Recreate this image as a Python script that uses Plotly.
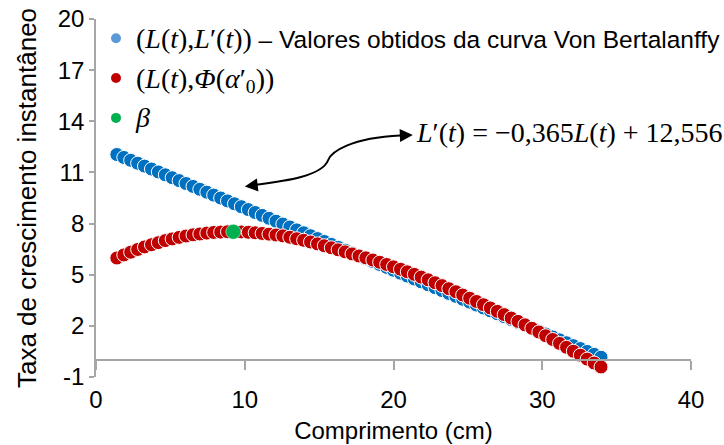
import plotly.graph_objects as go

# Comprimento L(t) (cm)
comprimento = [
    1.40, 1.87, 2.33, 2.80, 3.26, 3.73, 4.19, 4.66, 5.12, 5.59,
    6.05, 6.52, 6.98, 7.45, 7.91, 8.38, 8.84, 9.31, 9.77, 10.24,
    10.70, 11.17, 11.63, 12.10, 12.56, 13.03, 13.49, 13.96, 14.42, 14.89,
    15.35, 15.82, 16.28, 16.75, 17.21, 17.68, 18.14, 18.61, 19.07, 19.54,
    20.00, 20.47, 20.93, 21.40, 21.86, 22.33, 22.79, 23.26, 23.72, 24.19,
    24.65, 25.12, 25.58, 26.05, 26.51, 26.98, 27.44, 27.91, 28.37, 28.84,
    29.30, 29.77, 30.23, 30.70, 31.16, 31.63, 32.09, 32.56, 33.02, 33.49,
    33.95,
]

# L'(t) obtido da curva de Von Bertalanffy
taxa_vb = [
    12.05, 11.88, 11.71, 11.54, 11.37, 11.20, 11.03, 10.86, 10.69, 10.52,
    10.35, 10.18, 10.01, 9.84, 9.67, 9.50, 9.33, 9.16, 8.99, 8.82,
    8.65, 8.48, 8.31, 8.14, 7.97, 7.80, 7.63, 7.46, 7.29, 7.12,
    6.95, 6.78, 6.61, 6.44, 6.27, 6.10, 5.94, 5.77, 5.60, 5.43,
    5.26, 5.09, 4.92, 4.75, 4.58, 4.41, 4.24, 4.07, 3.90, 3.73,
    3.56, 3.39, 3.22, 3.05, 2.88, 2.71, 2.54, 2.37, 2.20, 2.03,
    1.86, 1.69, 1.52, 1.35, 1.18, 1.01, 0.84, 0.67, 0.50, 0.33,
    0.16,
]

# Phi(alpha'_0)
taxa_phi = [
    5.98, 6.16, 6.32, 6.48, 6.63, 6.76, 6.88, 7.00, 7.10, 7.19,
    7.27, 7.34, 7.39, 7.44, 7.48, 7.50, 7.52, 7.52, 7.51, 7.49,
    7.46, 7.42, 7.38, 7.33, 7.28, 7.20, 7.11, 7.02, 6.92, 6.81,
    6.70, 6.58, 6.46, 6.34, 6.22, 6.10, 5.99, 5.86, 5.73, 5.60,
    5.46, 5.32, 5.17, 5.02, 4.86, 4.70, 4.53, 4.36, 4.18, 4.00,
    3.81, 3.62, 3.43, 3.24, 3.05, 2.85, 2.66, 2.46, 2.26, 2.06,
    1.86, 1.64, 1.42, 1.20, 0.97, 0.74, 0.51, 0.28, 0.05, -0.18,
    -0.41,
]

# ponto beta
beta_x = [9.23]
beta_y = [7.52]

y_ticks = [-1, 2, 5, 8, 11, 14, 17, 20]
y_tick_text = ["-1", "2", "5", "8", "11", "14", "17", "20"]
x_ticks = [0, 10, 20, 30, 40]

AZUL = "#0070C0"
AZUL_LEG = "#5B9BD5"
VERMELHO = "#C00000"
VERDE = "#00B050"
CINZA = "#A6A6A6"
SANS = "Liberation Sans, Arial, sans-serif"
SERIF = "Liberation Serif"

fig = go.Figure()

fig.add_trace(go.Scatter(
    x=comprimento, y=taxa_vb, mode="markers", showlegend=False,
    marker=dict(color=AZUL, size=14, line=dict(color="white", width=1)),
))
fig.add_trace(go.Scatter(
    x=comprimento, y=taxa_phi, mode="markers", showlegend=False,
    marker=dict(color=VERMELHO, size=14, line=dict(color="white", width=1)),
))
fig.add_trace(go.Scatter(
    x=beta_x, y=beta_y, mode="markers", showlegend=False,
    marker=dict(color=VERDE, size=15, line=dict(color="white", width=0.5)),
))

# legend entries
leg1 = (f'<span style="font-family:{SERIF};font-size:28px">(<i>L</i>(<i>t</i>),'
        f'<i>L</i>′(<i>t</i>))</span> – Valores obtidos da curva Von Bertalanffy')
leg2 = (f'<span style="font-family:{SERIF};font-size:28px">(<i>L</i>(<i>t</i>),'
        f'<i>Φ</i>(<i>α</i>′<sub>0</sub>))</span>')
leg3 = f'<span style="font-family:{SERIF};font-size:28px"><i>β</i></span>'
for nome, cor, grupo in [(leg1, AZUL_LEG, "a"), (leg2, VERMELHO, "b"), (leg3, VERDE, "c")]:
    fig.add_trace(go.Scatter(
        x=[None], y=[None], mode="markers", name=nome, legendgroup=grupo,
        marker=dict(color=cor, size=10),
    ))

# axis line through y = 0 carrying the x tick marks
fig.add_trace(go.Scatter(x=[None], y=[None], xaxis="x2", showlegend=False,
                         hoverinfo="skip"))

# curved double arrow pointing from the equation to the line
fig.add_shape(
    type="path", xref="x", yref="y",
    path="M 10.78,10.28 C 12.73,10.50 15.21,10.79 15.61,11.73 "
         "C 15.82,12.20 17.10,13.03 20.46,13.17",
    line=dict(color="black", width=2),
)
fig.add_annotation(x=10.0, y=10.18, xref="x", yref="y", ax=13, ay=-1.5,
                   axref="pixel", ayref="pixel", text="", showarrow=True,
                   arrowhead=2, arrowsize=1.3, arrowwidth=2, arrowcolor="black")
fig.add_annotation(x=21.3, y=13.2, xref="x", yref="y", ax=-13, ay=0.5,
                   axref="pixel", ayref="pixel", text="", showarrow=True,
                   arrowhead=2, arrowsize=1.3, arrowwidth=2, arrowcolor="black")

fig.add_annotation(
    x=21.4, y=13.32, xref="x", yref="y", xanchor="left", yanchor="middle",
    showarrow=False,
    text="<i>L</i>′(<i>t</i>) = −0,365<i>L</i>(<i>t</i>) + 12,556",
    font=dict(family=SERIF, size=28, color="black"),
)

fig.update_layout(
    width=724, height=445, autosize=False,
    margin=dict(l=95.6, r=33, t=19.3, b=68.3, autoexpand=False),
    paper_bgcolor="white", plot_bgcolor="white",
    font=dict(family=SANS, size=24, color="black"),
    showlegend=True,
    legend=dict(
        x=0.0, y=1.009, xanchor="left", yanchor="top",
        bgcolor="rgba(0,0,0,0)", tracegroupgap=5,
        font=dict(family=SANS, size=24.5, color="black"),
    ),
    xaxis=dict(
        range=[0, 40], tickvals=x_ticks, showgrid=False, zeroline=False,
        showline=False, ticks="", ticklabelstandoff=6,
        title=dict(text="Comprimento (cm)", font=dict(size=24), standoff=10),
        tickfont=dict(size=24),
    ),
    xaxis2=dict(
        range=[0, 40], tickvals=x_ticks, overlaying="x", anchor="free",
        position=1 / 21, side="bottom", showgrid=False, zeroline=False,
        showline=True, linecolor=CINZA, linewidth=1.5, ticks="outside",
        ticklen=9, tickwidth=1.5, tickcolor=CINZA, showticklabels=False,
    ),
    yaxis=dict(
        range=[-1, 20], tickvals=y_ticks, ticktext=y_tick_text,
        showgrid=False, zeroline=False,
        showline=True, linecolor=CINZA, linewidth=1.5, ticks="outside",
        ticklen=5, tickwidth=1.5, tickcolor=CINZA,
        title=dict(text="Taxa de crescimento instantâneo", font=dict(size=26),
                   standoff=14),
        tickfont=dict(size=24),
    ),
)

fig.write_html("out.html")
